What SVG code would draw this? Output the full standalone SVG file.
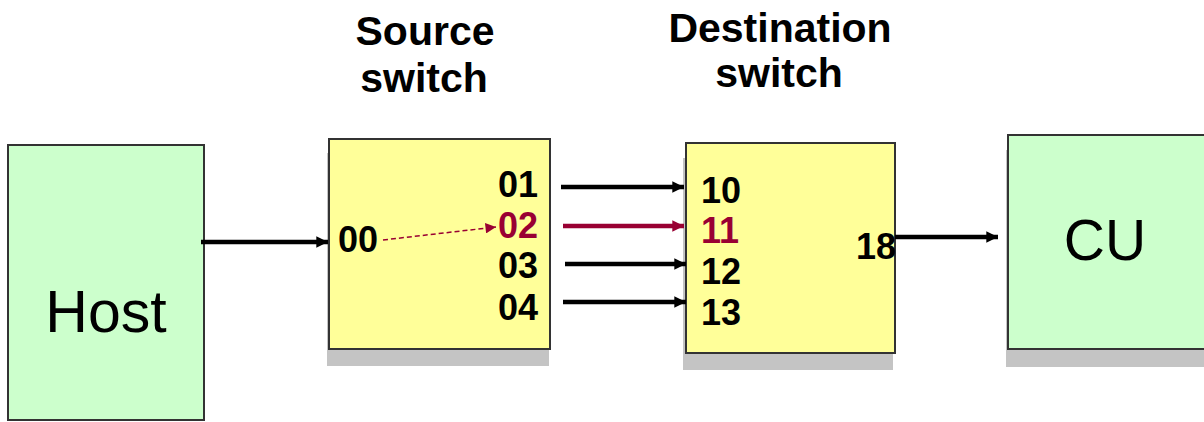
<svg xmlns="http://www.w3.org/2000/svg" width="1204" height="422" viewBox="0 0 1204 422">
<defs>
<style>
.box{stroke:#333;stroke-width:2}
.yel{fill:#ffff99}
.grn{fill:#ccffcc}
.shadow{fill:#c4c4c4}
.port{font-family:"Liberation Sans",Arial,sans-serif;font-weight:bold;font-size:36px;fill:#000}
.title{font-family:"Liberation Sans",Arial,sans-serif;font-weight:bold;font-size:41px;fill:#000;text-anchor:middle}
.big{font-family:"Liberation Sans",Arial,sans-serif;font-size:57px;fill:#000;text-anchor:middle}
.red{fill:#990033}
.conn{stroke:#000;stroke-width:4.5;fill:none}
.connr{stroke:#990033;stroke-width:4.5;fill:none}
</style>
<marker id="ah" viewBox="0 0 10 10" refX="10" refY="5" markerWidth="3.4" markerHeight="2.6" markerUnits="strokeWidth" orient="auto"><path d="M0,0 L10,5 L0,10 z" fill="#000"/></marker>
<marker id="ahr" viewBox="0 0 10 10" refX="10" refY="5" markerWidth="3.4" markerHeight="2.6" markerUnits="strokeWidth" orient="auto"><path d="M0,0 L10,5 L0,10 z" fill="#990033"/></marker>
<marker id="ahd" viewBox="0 0 10 10" refX="10" refY="5" markerWidth="8" markerHeight="7" markerUnits="strokeWidth" orient="auto"><path d="M0,0 L10,5 L0,10 z" fill="#990033"/></marker>
</defs>
<rect width="1204" height="422" fill="#fff"/>
<text class="title" x="425" y="45">Source</text>
<text class="title" x="424" y="92">switch</text>
<text class="title" x="780" y="42">Destination</text>
<text class="title" x="779" y="87">switch</text>
<g id="host">
<rect class="box grn" x="8" y="145" width="196" height="275"/>
<text class="big" x="106" y="332" style="font-size:59px">Host</text>
</g>
<g id="source-switch">
<rect class="shadow" x="327" y="153" width="222" height="213"/>
<rect class="box yel" x="329" y="139" width="221" height="210"/>
<text class="port" x="338" y="252">00</text>
<text class="port" x="498" y="197">01</text>
<text class="port red" x="498" y="238">02</text>
<text class="port" x="498" y="278">03</text>
<text class="port" x="498" y="320">04</text>
</g>
<g id="destination-switch">
<rect class="shadow" x="683" y="158" width="210" height="212"/>
<rect class="box yel" x="686" y="143" width="209" height="210"/>
<text class="port" x="701" y="203">10</text>
<text class="port red" x="701" y="243">11</text>
<text class="port" x="701" y="284">12</text>
<text class="port" x="701" y="325">13</text>
<text class="port" x="856" y="259">18</text>
</g>
<g id="cu">
<rect class="shadow" x="1006" y="150" width="200" height="217"/>
<rect class="box grn" x="1008" y="135" width="200" height="214"/>
<text class="big" x="1105" y="260">CU</text>
</g>
<g id="connectors">
<line class="conn" x1="201" y1="242" x2="328" y2="242" marker-end="url(#ah)"/>
<line x1="383" y1="240" x2="496" y2="227" stroke="#990033" stroke-width="1.5" stroke-dasharray="5 3" marker-end="url(#ahd)"/>
<line class="conn" x1="561" y1="187" x2="684" y2="187" marker-end="url(#ah)"/>
<line class="connr" x1="563" y1="226" x2="684" y2="226" marker-end="url(#ahr)"/>
<line class="conn" x1="565" y1="264" x2="686" y2="264" marker-end="url(#ah)"/>
<line class="conn" x1="563" y1="302" x2="686" y2="302" marker-end="url(#ah)"/>
<line class="conn" x1="895" y1="237" x2="998" y2="237" marker-end="url(#ah)"/>
</g>
</svg>
